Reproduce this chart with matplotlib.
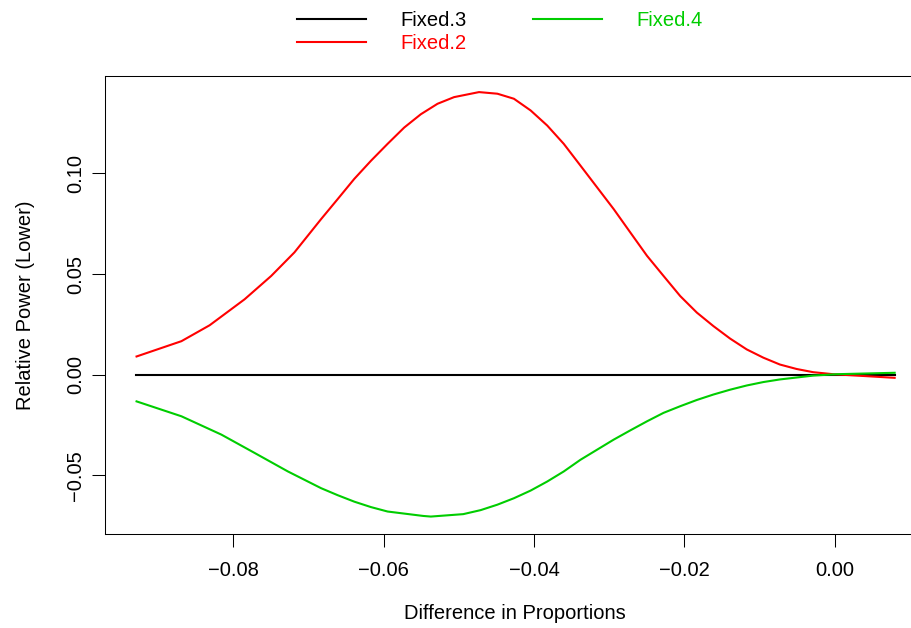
import numpy as np
import matplotlib
matplotlib.use("Agg")
from matplotlib import pyplot as plt

plt.rcParams['font.family'] = ['Liberation Sans', 'DejaVu Sans']
plt.rcParams['font.size'] = 14.5

# values
x_fixed3 = [-0.0929, 0.0080]
y_fixed3 = [0.0, 0.0]

x_fixed2 = [-0.09287, -0.08690, -0.08315, -0.07850, -0.07496, -0.07187, -0.06833,
            -0.06611, -0.06391, -0.06169, -0.05948, -0.05727, -0.05506, -0.05284,
            -0.05064, -0.04732, -0.04488, -0.04268, -0.04046, -0.03825, -0.03605,
            -0.03383, -0.03162, -0.02941, -0.02720, -0.02498, -0.02278, -0.02056,
            -0.01835, -0.01615, -0.01393, -0.01171, -0.00950, -0.00730, -0.00509,
            -0.00288, -0.00023, 0.00796]
y_fixed2 = [0.0091, 0.0167, 0.0246, 0.0375, 0.0491, 0.0608, 0.0773,
            0.0873, 0.0973, 0.1063, 0.1147, 0.1228, 0.1294, 0.1346,
            0.1379, 0.1404, 0.1396, 0.1371, 0.1313, 0.1238, 0.1147,
            0.1039, 0.0931, 0.0823, 0.0707, 0.0591, 0.0491, 0.0391,
            0.0309, 0.0242, 0.0180, 0.0126, 0.0085, 0.0051, 0.0029,
            0.0013, 0.0003, -0.0015]

x_fixed4 = [-0.09287, -0.08690, -0.08159, -0.07717, -0.07274, -0.06833, -0.06611,
            -0.06391, -0.06169, -0.05948, -0.05473, -0.05373, -0.04942, -0.04710,
            -0.04488, -0.04268, -0.04046, -0.03825, -0.03605, -0.03383, -0.03162,
            -0.02941, -0.02720, -0.02498, -0.02278, -0.02056, -0.01835, -0.01615,
            -0.01393, -0.01171, -0.00950, -0.00730, -0.00288, 0.00023, 0.00796]
y_fixed4 = [-0.0132, -0.0206, -0.0297, -0.0388, -0.0480, -0.0563, -0.0598,
            -0.0630, -0.0657, -0.0679, -0.0701, -0.0704, -0.0692, -0.0672,
            -0.0645, -0.0613, -0.0575, -0.0530, -0.0480, -0.0422, -0.0372,
            -0.0322, -0.0276, -0.0231, -0.0189, -0.0156, -0.0125, -0.0098,
            -0.0074, -0.0053, -0.0036, -0.0023, -0.0004, 0.0003, 0.0010]

fig = plt.figure(figsize=(9.11, 6.28), dpi=100)
ax = fig.add_axes([0.1158, 0.1502, 0.8996, 0.7288])

l3, = ax.plot(x_fixed3, y_fixed3, color='black', lw=1.5, label='Fixed.3')
l2, = ax.plot(x_fixed2, y_fixed2, color='#FF0000', lw=1.5, label='Fixed.2')
l4, = ax.plot(x_fixed4, y_fixed4, color='#00CD00', lw=1.5, label='Fixed.4')

ax.set_xlim(-0.0970, 0.0120)
ax.set_ylim(-0.0789, 0.1484)
ax.set_xticks([-0.08, -0.06, -0.04, -0.02, 0.00])
ax.set_xticklabels(['\u22120.08', '\u22120.06', '\u22120.04', '\u22120.02', '0.00'])
ax.set_yticks([-0.05, 0.00, 0.05, 0.10])
ax.set_yticklabels(['\u22120.05', '0.00', '0.05', '0.10'], rotation=90, va='center')
ax.tick_params(direction='out', length=9.4, width=0.75)
ax.tick_params(axis='x', pad=10.5)
ax.tick_params(axis='y', pad=5.5)
for s in ax.spines.values():
    s.set_linewidth(0.75)

ax.set_xlabel('Difference in Proportions', labelpad=17)
ax.set_ylabel('Relative Power (Lower)', labelpad=22)

fig.legend(handles=[l3, l2, l4], loc='center', bbox_to_anchor=(500 / 911, 1 - 32 / 628),
           ncol=2, frameon=False, handlelength=3.43, handletextpad=1.7,
           columnspacing=3.3, labelspacing=0.2, borderpad=0, labelcolor='linecolor')

fig.savefig('out.png', dpi=100)
